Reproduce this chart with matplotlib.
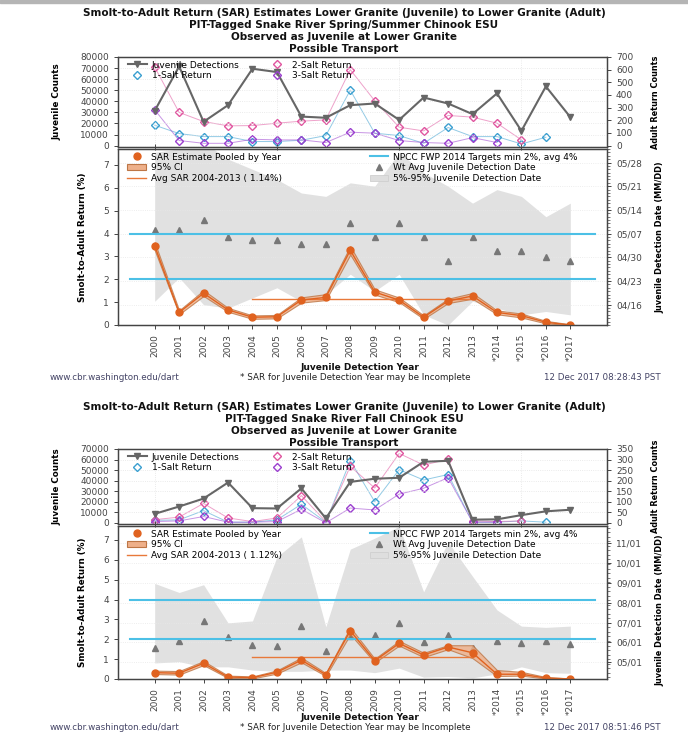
import datetime
import numpy as np
import matplotlib
matplotlib.use("Agg")
import matplotlib.pyplot as plt
from matplotlib.lines import Line2D
from matplotlib.patches import Patch, Rectangle
from matplotlib.ticker import FixedLocator, MultipleLocator, FuncFormatter

plt.rcParams['font.family'] = ['DejaVu Sans']

years = list(range(2000, 2018))
year_labels = [str(y) for y in range(2000, 2014)] + ['*2014', '*2015', '*2016', '*2017']
nan = np.nan

# --- Spring/Summer Chinook ---
ss_titles = ["Smolt-to-Adult Return (SAR) Estimates Lower Granite (Juvenile) to Lower Granite (Adult)",
             "PIT-Tagged Snake River Spring/Summer Chinook ESU",
             "Observed as Juvenile at Lower Granite",
             "Possible Transport"]
ss_juv = [31400, 71500, 21500, 36500, 69400, 66400, 26200, 25100, 36500, 38000,
          23200, 43400, 38000, 28400, 47100, 13300, 53400, 25700]
ss_salt1 = [161, 95, 71, 71, 32, 32, 42, 79, 438, 98, 79, 18, 143, 71, 71, 13, 66, nan]
ss_salt2 = [621, 262, 190, 156, 158, 177, 193, 203, 600, 354, 145, 116, 238, 225, 177, 45, nan, nan]
ss_salt3 = [283, 40, 18, 18, 50, 45, 45, 24, 106, 98, 40, 24, 18, 63, 24, nan, nan, nan]
ss_sar = [3.46, 0.55, 1.39, 0.66, 0.34, 0.36, 1.09, 1.21, 3.27, 1.44,
          1.09, 0.34, 1.05, 1.27, 0.55, 0.41, 0.12, 0.0]
ss_ci_lo = [3.28, 0.47, 1.27, 0.58, 0.27, 0.29, 0.98, 1.09, 3.08, 1.33,
            1.00, 0.27, 0.96, 1.15, 0.47, 0.33, 0.07, 0.0]
ss_ci_hi = [3.62, 0.64, 1.52, 0.75, 0.42, 0.44, 1.21, 1.35, 3.45, 1.56,
            1.20, 0.42, 1.15, 1.40, 0.64, 0.50, 0.18, 0.03]
ss_avg = 1.14
ss_wt_day = [128, 128, 131, 126, 125, 125, 124, 124, 130, 126, 130, 126, 119, 126, 122, 122, 120, 119]
ss_p05_day = [107, 114, 106, 105, 108, 111, 107, 109, 115, 110, 115, 103, 100, 107, 105, 103, 104, 103]
ss_p95_day = [151, 152, 154, 149, 146, 143, 139, 138, 142, 141, 151, 145, 141, 136, 140, 138, 132, 136]
ss_stamp = "12 Dec 2017 08:28:43 PST"

# --- Fall Chinook ---
fa_titles = ["Smolt-to-Adult Return (SAR) Estimates Lower Granite (Juvenile) to Lower Granite (Adult)",
             "PIT-Tagged Snake River Fall Chinook ESU",
             "Observed as Juvenile at Lower Granite",
             "Possible Transport"]
fa_juv = [8500, 15450, 23000, 38200, 13900, 13600, 32700, 4240, 38800, 41800,
          42700, 57900, 58800, 3000, 3300, 7300, 10900, 12400]
fa_salt1 = [12, 14, 58, 3, 3, 14, 88, 3, 295, 100, 252, 203, 229, 3, 3, 9, 3, nan]
fa_salt2 = [15, 27, 92, 23, 6, 23, 129, 6, 268, 165, 329, 274, 301, 9, 6, 9, nan, nan]
fa_salt3 = [6, 9, 30, 3, 3, 6, 64, 0, 70, 61, 136, 164, 214, 3, 3, nan, nan, nan]
fa_sar = [0.32, 0.29, 0.79, 0.10, 0.07, 0.34, 0.95, 0.22, 2.43, 0.92,
          1.79, 1.21, 1.61, 1.32, 0.24, 0.24, 0.05, 0.0]
fa_ci_lo = [0.25, 0.22, 0.70, 0.05, 0.03, 0.27, 0.84, 0.15, 2.25, 0.83,
            1.68, 1.10, 1.50, 1.05, 0.15, 0.17, 0.02, 0.0]
fa_ci_hi = [0.42, 0.40, 0.90, 0.17, 0.13, 0.43, 1.08, 0.30, 2.60, 1.02,
            1.92, 1.32, 1.70, 1.70, 0.45, 0.36, 0.10, 0.03]
fa_avg = 1.12
fa_wt_day = [143, 154, 185, 160, 148, 146, 177, 139, 162, 163, 182, 152, 163, 143, 154, 151, 154, 149]
fa_p05_day = [120, 122, 114, 114, 109, 107, 107, 109, 109, 105, 112, 98, 99, 97, 103, 114, 105, 104]
fa_p95_day = [243, 229, 241, 182, 185, 284, 315, 176, 296, 313, 331, 230, 307, 254, 202, 177, 175, 177]
fa_stamp = "12 Dec 2017 08:51:46 PST"

C_JUV = '#666666'
C_S1 = '#3a9fd0'
C_S2 = '#e0559f'
C_S3 = '#9b3fcf'
C_SAR = '#e0621f'
C_CI = '#eeb08a'
C_CIE = '#bd7646'
C_AVG = '#e8793a'
C_NPCC = '#4cc0e6'
C_TRI = '#777777'
C_BAND = '#dedede'
C_AX = '#444444'

W, H = 688, 749


def mmdd(d, pos=None):
    dt = datetime.date(2017, 1, 1) + datetime.timedelta(days=int(round(d)) - 1)
    return dt.strftime('%m/%d')


def rect(y_top, y_bot):
    return [118 / W, 1 - y_bot / H, 489 / W, (y_bot - y_top) / H]


def style(ax):
    for s in ax.spines.values():
        s.set_color(C_AX)
        s.set_linewidth(0.9)
    ax.tick_params(colors=C_AX, labelsize=6.5, length=3, width=0.7)


def panel(fig, pos, titles, juv, s1, s2, s3, cmax, amax, sar, lo, hi, avg,
          wt, p05, p95, dlim, dmajor, dminor, stamp, dlab_y=0.5):
    title_y, top_t, top_b, bot_t, bot_b, xlab_y, foot_y = pos
    for i, t in enumerate(titles):
        fig.text(0.5, 1 - (title_y + 12 * i) / H, t, ha='center', va='center',
                 fontsize=7.5, fontweight='bold', color='#111111')

    # ---- top: counts ----
    ax = fig.add_axes(rect(top_t, top_b))
    axr = ax.twinx()
    ax.set_zorder(axr.get_zorder() + 1)
    ax.patch.set_visible(False)
    pad = cmax * 0.016
    ax.set_ylim(-pad, cmax)
    axr.set_ylim(-pad * amax / cmax, amax)
    ax.set_xlim(1998.5, 2018.5)
    ax.yaxis.set_major_locator(MultipleLocator(10000))
    axr.yaxis.set_major_locator(MultipleLocator(100 if amax == 700 else 50))
    ax.xaxis.set_major_locator(FixedLocator([2000, 2005, 2010, 2015]))
    ax.set_xticklabels([])
    style(ax)
    style(axr)
    ax.tick_params(axis='x', direction='inout', length=5)
    ax.grid(True, color='#e4e4e4', ls=':', lw=0.6)

    for vals, c in [(s1, C_S1), (s2, C_S2), (s3, C_S3)]:
        axr.plot(years, vals, color=c, lw=0.7, alpha=0.55)
        axr.plot(years, vals, ls='none', marker='D', ms=3.6, mfc='none', mec=c, mew=1.0)
    ax.plot(years, juv, color=C_JUV, lw=1.5, marker='v', ms=5, mfc=C_JUV, mec=C_JUV)

    ax.set_ylabel('Juvenile Counts', fontsize=6.3, fontweight='bold')
    ax.yaxis.set_label_coords(-0.115, 0.5)
    axr.set_ylabel('Adult Return Counts', fontsize=5.9, fontweight='bold', rotation=90)
    axr.yaxis.set_label_coords(1.09, 0.5)

    h1 = [Line2D([], [], color=C_JUV, lw=1.5, marker='v', ms=5),
          Line2D([], [], ls='none', marker='D', ms=3.6, mfc='none', mec=C_S1, mew=1.0)]
    h2 = [Line2D([], [], ls='none', marker='D', ms=3.6, mfc='none', mec=C_S2, mew=1.0),
          Line2D([], [], ls='none', marker='D', ms=3.6, mfc='none', mec=C_S3, mew=1.0)]
    kw = dict(frameon=False, fontsize=6.5, handlelength=2.0, handletextpad=0.6,
              labelspacing=0.2, borderaxespad=0.2, borderpad=0.2)
    lg = ax.legend(h1, ['Juvenile Detections', '1-Salt Return'], loc='upper left',
                   bbox_to_anchor=(0.014, 1.0), **kw)
    ax.add_artist(lg)
    ax.legend(h2, ['2-Salt Return', '3-Salt Return'], loc='upper left',
              bbox_to_anchor=(0.3, 1.0), **kw)

    # ---- bottom: SAR ----
    bx = fig.add_axes(rect(bot_t, bot_b))
    bd = bx.twinx()
    bx.set_zorder(bd.get_zorder() + 1)
    bx.patch.set_visible(False)
    bx.set_xlim(1998.5, 2018.5)
    bx.set_ylim(0, 7.7)
    bd.set_ylim(*dlim)
    bx.yaxis.set_major_locator(MultipleLocator(1))
    bd.yaxis.set_major_locator(FixedLocator(dmajor))
    bd.yaxis.set_minor_locator(MultipleLocator(dminor))
    bd.yaxis.set_major_formatter(FuncFormatter(mmdd))
    bx.set_xticks(years)
    bx.set_xticklabels(year_labels, rotation=90)
    style(bx)
    style(bd)
    bd.tick_params(which='minor', length=1.8, width=0.5, colors=C_AX)
    bd.grid(True, color='#e8e8e8', ls=':', lw=0.6)

    bd.fill_between(years, p05, p95, color=C_BAND, lw=0, alpha=0.9)
    bd.plot(years, wt, ls='none', marker='^', ms=4.5, color=C_TRI)

    bx.plot([1999, 2018], [2, 2], color=C_NPCC, lw=1.5)
    bx.plot([1999, 2018], [4, 4], color=C_NPCC, lw=1.5)
    bx.fill_between(years, lo, hi, facecolor=C_CI, edgecolor=C_CIE, lw=0.8, alpha=0.8)
    bx.plot([2004, 2013], [avg, avg], color=C_AVG, lw=1.0)
    bx.plot(years, sar, color=C_SAR, lw=1.0, marker='o', ms=5, mfc=C_SAR, mec=C_SAR)

    bx.set_ylabel('Smolt-to-Adult Return (%)', fontsize=6.3, fontweight='bold')
    bx.yaxis.set_label_coords(-0.064, 0.5)
    bd.set_ylabel('Juvenile Detection Date (MM/DD)', fontsize=5.9, fontweight='bold', rotation=90)
    bd.yaxis.set_label_coords(1.1, dlab_y)

    g1 = [Line2D([], [], ls='none', marker='o', ms=5, color=C_SAR),
          Patch(facecolor=C_CI, edgecolor=C_CIE, lw=0.8),
          Line2D([], [], color=C_AVG, lw=1.0)]
    g2 = [Line2D([], [], color=C_NPCC, lw=1.5),
          Line2D([], [], ls='none', marker='^', ms=4.5, color=C_TRI),
          Patch(facecolor=C_BAND, edgecolor='#cfcfcf', lw=0.6)]
    lg = bx.legend(g1, ['SAR Estimate Pooled by Year', '95% CI',
                        'Avg SAR 2004-2013 ( %.2f%%)' % avg],
                   loc='upper left', bbox_to_anchor=(0.012, 1.0), **kw)
    bx.add_artist(lg)
    bx.legend(g2, ['NPCC FWP 2014 Targets min 2%, avg 4%', 'Wt Avg Juvenile Detection Date',
                   '5%-95% Juvenile Detection Date'],
              loc='upper left', bbox_to_anchor=(0.508, 1.0), **kw)

    # footer
    fig.text(360 / W, 1 - xlab_y / H, 'Juvenile Detection Year', ha='center', va='center',
             fontsize=6.5, fontweight='bold', color='#111111')
    fy = 1 - foot_y / H
    fig.text(115 / W, fy, 'www.cbr.washington.edu/dart', ha='center', va='center',
             fontsize=6.3, color='#444466')
    fig.text(355 / W, fy, '* SAR for Juvenile Detection Year may be Incomplete', ha='center',
             va='center', fontsize=6.3, color='#222222')
    fig.text(661 / W, fy, stamp, ha='right', va='center', fontsize=6.3, color='#444466')


fig = plt.figure(figsize=(6.88, 7.49), dpi=100)
fig.patches.append(Rectangle((0, 1 - 3 / H), 1, 3 / H, transform=fig.transFigure,
                             color='#b5b5b5', zorder=0))

panel(fig, (13, 57, 147, 149, 325, 368, 378), ss_titles,
      ss_juv, ss_salt1, ss_salt2, ss_salt3, 80000, 700,
      ss_sar, ss_ci_lo, ss_ci_hi, ss_avg, ss_wt_day, ss_p05_day, ss_p95_day,
      (100, 152), [106, 113, 120, 127, 134, 141, 148], 1, ss_stamp)
panel(fig, (407, 449, 524, 526, 679, 717, 728), fa_titles,
      fa_juv, fa_salt1, fa_salt2, fa_salt3, 70000, 350,
      fa_sar, fa_ci_lo, fa_ci_hi, fa_avg, fa_wt_day, fa_p05_day, fa_p95_day,
      (95.2, 331.8), [121, 152, 182, 213, 244, 274, 305], 7, fa_stamp, dlab_y=0.45)

fig.savefig('out.png', dpi=100)
